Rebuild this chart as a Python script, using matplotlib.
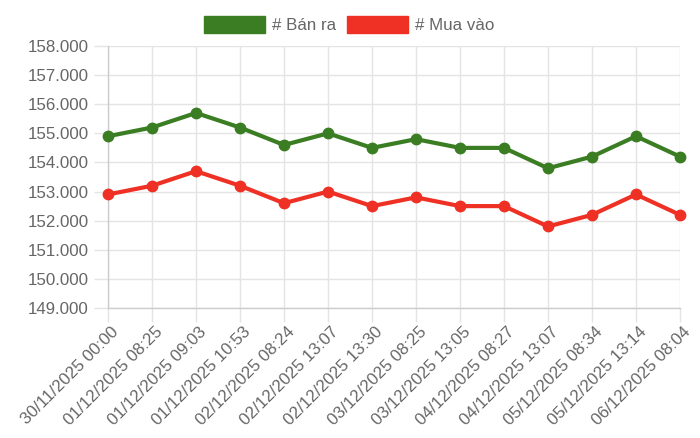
import matplotlib.pyplot as plt
import matplotlib.transforms as mtransforms
from matplotlib.patches import Patch
from matplotlib.ticker import FuncFormatter, MultipleLocator

plt.rcParams['font.family'] = ['Liberation Sans', 'DejaVu Sans']

# data
labels = ['30/11/2025 00:00', '01/12/2025 08:25', '01/12/2025 09:03',
          '01/12/2025 10:53', '02/12/2025 08:24', '02/12/2025 13:07',
          '02/12/2025 13:30', '03/12/2025 08:25', '03/12/2025 13:05',
          '04/12/2025 08:27', '04/12/2025 13:07', '05/12/2025 08:34',
          '05/12/2025 13:14', '06/12/2025 08:04']
ban_ra = [154900, 155200, 155700, 155200, 154600, 155000, 154500,
          154800, 154500, 154500, 153800, 154200, 154900, 154200]
mua_vao = [152900, 153200, 153700, 153200, 152600, 153000, 152500,
           152800, 152500, 152500, 151800, 152200, 152900, 152200]

green = '#3a7d22'
red = '#ee3124'
text_c = '#666666'
grid_c = '#e4e4e4'
fs = 12.2

fig = plt.figure(figsize=(7, 4.38), dpi=100)
ax = fig.add_axes([108 / 700, 1 - 308 / 438, 572 / 700, 262 / 438])

x = list(range(len(labels)))
ax.plot(x, ban_ra, color=green, lw=3, marker='o', ms=7.5, clip_on=False, zorder=3)
ax.plot(x, mua_vao, color=red, lw=3, marker='o', ms=7.5, clip_on=False, zorder=3)

ax.set_xlim(0, len(labels) - 1)
ax.set_ylim(149000, 158000)
ax.yaxis.set_major_locator(MultipleLocator(1000))
ax.yaxis.set_major_formatter(FuncFormatter(lambda v, p: f'{v:,.0f}'.replace(',', '.')))
ax.set_xticks(x)
ax.set_xticklabels(labels, rotation=45, ha='right', va='top', rotation_mode='anchor')

ax.grid(True, color=grid_c, lw=1)
ax.set_axisbelow(True)
ax.tick_params(length=10, width=1, color=grid_c, labelsize=fs, labelcolor=text_c, pad=4)
ax.tick_params(axis='x', pad=4)
for s in ['top', 'right']:
    ax.spines[s].set_visible(False)
for s in ['left', 'bottom']:
    ax.spines[s].set_color('#cccccc')
    ax.spines[s].set_linewidth(1)

# nudge the rotated date labels a little right and up
shift = mtransforms.ScaledTranslation(3 / 100, 3 / 100, fig.dpi_scale_trans)
for lab in ax.get_xticklabels():
    lab.set_transform(lab.get_transform() + shift)

# legend
handles = [Patch(facecolor=green, edgecolor=green, label='# Bán ra'),
           Patch(facecolor=red, edgecolor=red, label='# Mua vào')]
leg = fig.legend(handles=handles, loc='center', bbox_to_anchor=(0.499, 1 - 24.5 / 438),
                 ncol=2, frameon=False, fontsize=fs, handlelength=3.6, handleheight=1.25,
                 handletextpad=0.42, columnspacing=0.65, borderpad=0)
for t in leg.get_texts():
    t.set_color(text_c)

fig.savefig('out.png', dpi=100)
